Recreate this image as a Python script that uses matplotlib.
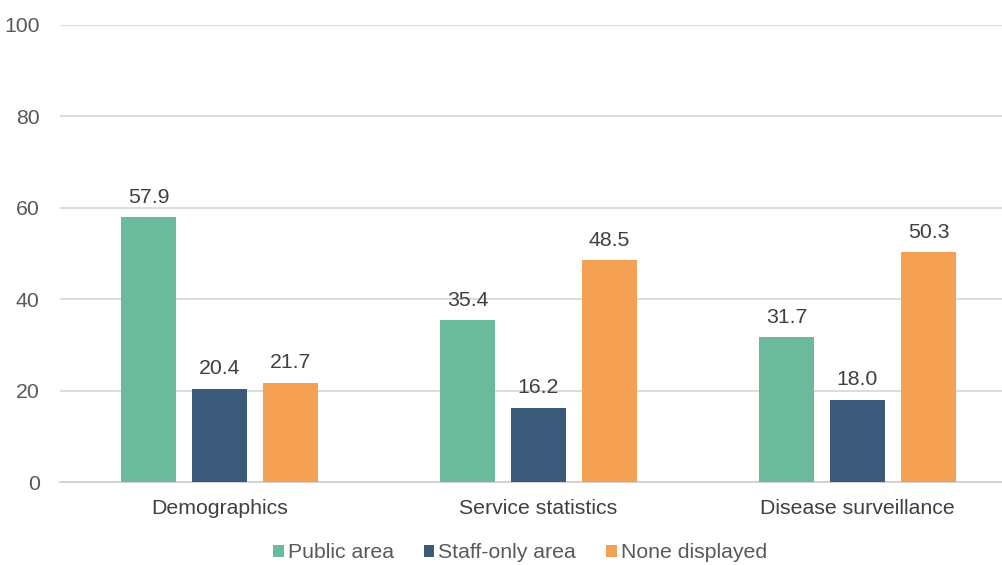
import numpy as np
import matplotlib.pyplot as plt

plt.rcParams['font.family'] = ['Liberation Sans', 'DejaVu Sans']

categories = ['Demographics', 'Service statistics', 'Disease surveillance']
series_names = ['Public area', 'Staff-only area', 'None displayed']
public_area = [57.9, 35.4, 31.7]
staff_only = [20.4, 16.2, 18.0]
none_displayed = [21.7, 48.5, 50.3]
colors = ['#6BBA9C', '#3B5A7A', '#F5A052']

fig = plt.figure(figsize=(10.03, 5.65), dpi=100)
ax = fig.add_axes([60 / 1003, 83 / 565, 957 / 1003, 457 / 565])

x = np.arange(len(categories))
width = 0.175
step = 0.2225
for i, (vals, name) in enumerate(zip([public_area, staff_only, none_displayed], series_names)):
    pos = x + (i - 1) * step
    ax.bar(pos, vals, width, color=colors[i], label=name, zorder=3)
    for xp, v in zip(pos, vals):
        ax.text(xp, v + 2.3, f'{v:.1f}', ha='center', va='bottom',
                fontsize=15.3, color='#404040')

ax.set_xlim(-0.5, 2.5)
ax.set_ylim(0, 100)
ax.set_yticks(range(0, 101, 20))
ax.yaxis.grid(True, color='#D9D9D9', linewidth=1.3, zorder=0)
for side in ['top', 'right', 'left']:
    ax.spines[side].set_visible(False)
ax.spines['bottom'].set_color('#D0D0D0')
ax.spines['bottom'].set_linewidth(1.3)
ax.tick_params(axis='both', length=0, labelsize=15.3, labelcolor='#595959')
ax.tick_params(axis='y', pad=14.7)
ax.tick_params(axis='x', pad=12.5)
ax.set_xticks(x)
ax.set_xticklabels(categories, color='#404040')

fig.legend(loc='center', bbox_to_anchor=(520 / 1003, 1 - 553 / 565), ncol=3,
           frameon=False, fontsize=15.3, handlelength=0.5, handleheight=0.5,
           handletextpad=0.2, columnspacing=1.4, labelcolor='#595959')

fig.savefig('out.png', dpi=100)
